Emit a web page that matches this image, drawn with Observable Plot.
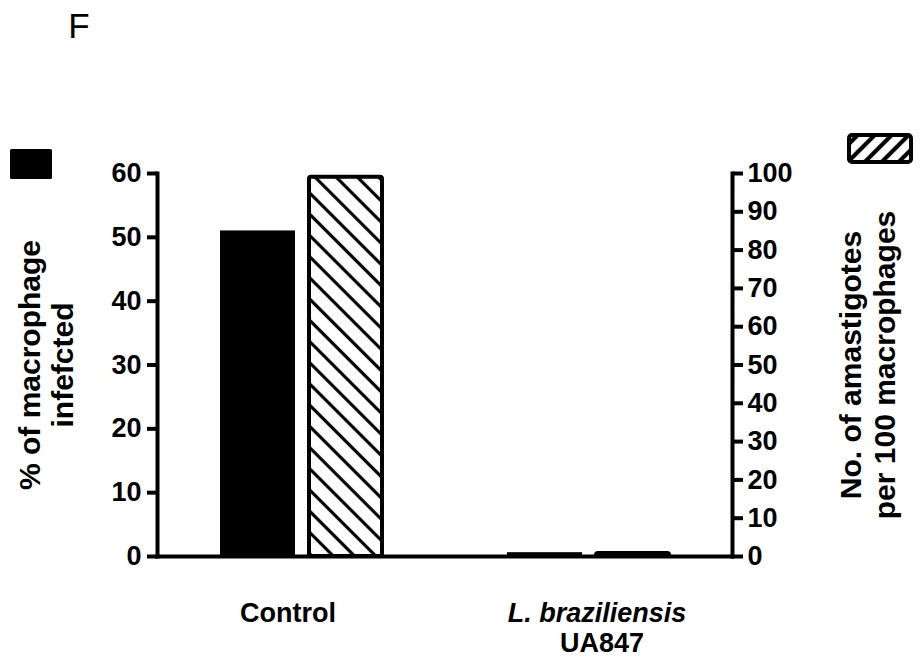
<!DOCTYPE html>
<html>
<head>
<meta charset="utf-8">
<script src="https://cdn.jsdelivr.net/npm/d3@7"></script>
<script src="https://cdn.jsdelivr.net/npm/@observablehq/plot@0.6"></script>
<style>
  body { margin: 0; background: #fff; }
  #chart { width: 922px; height: 657px; }
  #chart svg { overflow: visible; }
</style>
</head>
<body>
<svg width="0" height="0" style="position:absolute">
  <defs>
    <pattern id="hatchBar" patternUnits="userSpaceOnUse" width="15" height="15" patternTransform="rotate(-45)">
      <rect width="15" height="15" fill="#fff"/>
      <line x1="7.5" y1="-1" x2="7.5" y2="16" stroke="#000" stroke-width="3.2"/>
    </pattern>
    <pattern id="hatchLegend" patternUnits="userSpaceOnUse" width="12" height="12" patternTransform="rotate(45)">
      <rect width="12" height="12" fill="#fff"/>
      <line x1="6" y1="-1" x2="6" y2="13" stroke="#000" stroke-width="4.2"/>
    </pattern>
  </defs>
</svg>
<div id="chart"></div>
<script>
// ---- data ----
const groups = ["Control", "L. braziliensis UA847"];
const pctInfected = [51, 0.6];          // left axis: % of macrophage infected
const amastigotes = [99, 0.8];          // right axis: no. of amastigotes per 100 macrophages
const leftTicks = [0, 10, 20, 30, 40, 50, 60];
const rightTicks = [0, 10, 20, 30, 40, 50, 60, 70, 80, 90, 100];
const xLabelMain = ["Control", "L. braziliensis"];
const xLabelItalic = [false, true];
const xLabelSub = ["", "UA847"];
const leftTitle = "% of macrophage\ninfefcted";
const rightTitle = "No. of amastigotes\nper 100 macrophages";
const panelLetter = "F";

const leftMax = 60, rightMax = 100;
const k = leftMax / rightMax; // maps right-axis units into the shared y scale

const pctData = groups.map((g, i) => ({g, v: pctInfected[i]}));
const amaData = groups.map((g, i) => ({g, v: amastigotes[i]}));
const normalGroups = groups.filter((g, i) => !xLabelItalic[i]);
const italicGroups = groups.filter((g, i) => xLabelItalic[i]);
const subGroups = groups.filter((g, i) => xLabelSub[i]);

const font = "'Liberation Sans', Arial, sans-serif";

const chart = Plot.plot({
  width: 922,
  height: 657,
  marginLeft: 157,
  marginRight: 190,
  marginTop: 173,
  marginBottom: 101,
  style: {fontFamily: font, fontWeight: "bold", background: "#fff", color: "#000"},
  x: {type: "band", domain: groups, padding: 0, axis: null},
  y: {domain: [0, leftMax], axis: null},
  marks: [
    Plot.barY(pctData, {x: "g", y: "v", fill: "#000", insetLeft: 62, insetRight: 150}),
    Plot.barY(amaData, {x: "g", y: d => d.v * k, fill: "url(#hatchBar)", stroke: "#000", strokeWidth: 4, rx: 2, insetLeft: 151, insetRight: 63}),
    Plot.ruleY([0], {stroke: "#000", strokeWidth: 4, strokeLinecap: "square"}),
    Plot.frame({anchor: "left", stroke: "#000", strokeWidth: 4, strokeLinecap: "square"}),
    Plot.frame({anchor: "right", stroke: "#000", strokeWidth: 4, strokeLinecap: "square"}),
    Plot.axisY({anchor: "left", ticks: leftTicks, tickSize: 10, tickPadding: 6, strokeWidth: 4,
      fontSize: 27, fontWeight: "bold", label: null}),
    Plot.axisY({anchor: "right", ticks: rightTicks.map(v => v * k), tickFormat: v => Math.round(v / k),
      tickSize: 10, tickPadding: 5, strokeWidth: 4, fontSize: 27, fontWeight: "bold", label: null}),
    Plot.text([leftTitle], {frameAnchor: "left", rotate: -90, dx: -112, textAnchor: "middle", lineAnchor: "middle",
      fontSize: 30, fontWeight: "bold", lineHeight: 1.1}),
    Plot.text([rightTitle], {frameAnchor: "right", rotate: -90, dx: 135, textAnchor: "middle", lineAnchor: "middle",
      fontSize: 30, fontWeight: "bold", lineHeight: 1.12}),
    Plot.text(normalGroups, {x: d => d, text: d => xLabelMain[groups.indexOf(d)], frameAnchor: "bottom",
      dy: 57, dx: -14, lineAnchor: "middle", fontSize: 27, fontWeight: "bold"}),
    Plot.text(italicGroups, {x: d => d, text: d => xLabelMain[groups.indexOf(d)], frameAnchor: "bottom",
      dy: 57, dx: 8, lineAnchor: "middle", fontSize: 27, fontWeight: "bold", fontStyle: "italic"}),
    Plot.text(subGroups, {x: d => d, text: d => xLabelSub[groups.indexOf(d)], frameAnchor: "bottom",
      dy: 87, dx: 13, lineAnchor: "middle", fontSize: 27, fontWeight: "bold"})
  ]
});

document.getElementById("chart").appendChild(chart);

// panel letter and legend swatches
const svg = d3.select(chart);
svg.append("text").attr("x", 79).attr("y", 38).attr("font-size", 35).attr("font-weight", "normal")
  .attr("font-family", font).attr("fill", "#000").text(panelLetter);
const legend = svg.append("g").attr("aria-label", "legend");
legend.append("rect").attr("x", 10).attr("y", 149).attr("width", 42).attr("height", 30).attr("rx", 1.5).attr("fill", "#000");
legend.append("rect").attr("x", 849).attr("y", 135).attr("width", 62).attr("height", 27).attr("rx", 3)
  .attr("fill", "url(#hatchLegend)").attr("stroke", "#000").attr("stroke-width", 4);
</script>
</body>
</html>
